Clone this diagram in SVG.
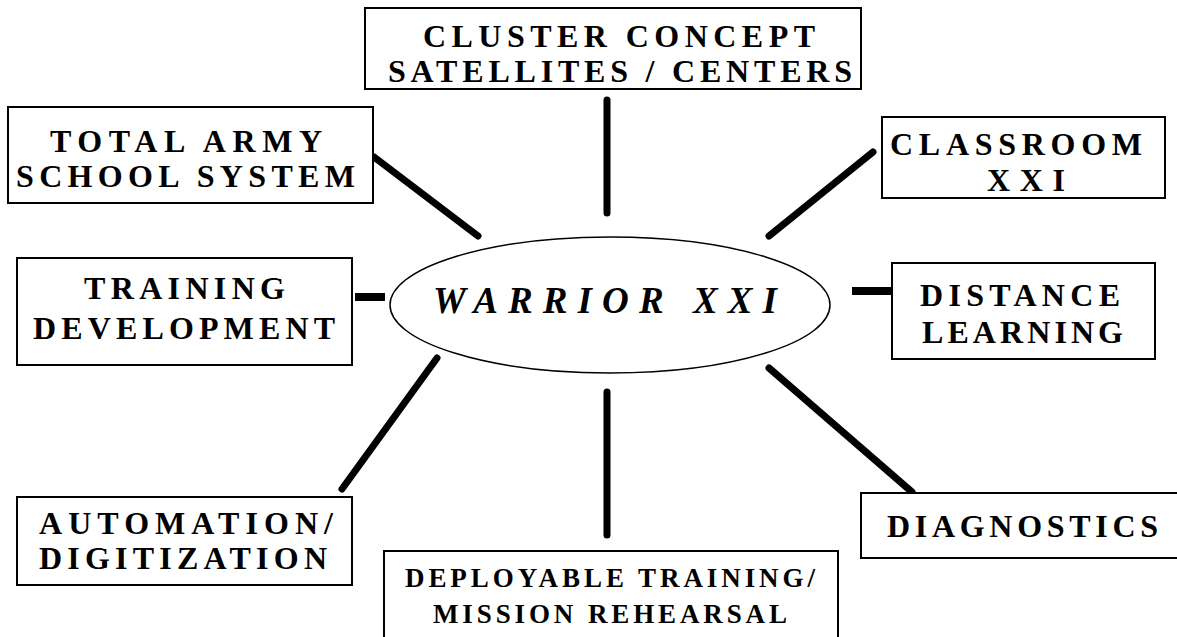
<svg xmlns="http://www.w3.org/2000/svg" width="1177" height="637" viewBox="0 0 1177 637">
<style>
.box{fill:#fff;stroke:#000;stroke-width:2}
.lbl{font-family:'Liberation Serif','DejaVu Serif',serif;font-weight:700;font-size:32px;fill:#000}
.sm{font-size:27px}
.conn{stroke:#000;stroke-width:7;stroke-linecap:round;fill:none}
.stub{stroke:#000;stroke-width:8;fill:none}
.hub{fill:#fff;stroke:#000;stroke-width:1.5}
.hubt{font-family:'Liberation Serif','DejaVu Serif',serif;font-weight:700;font-style:italic;font-size:37px;fill:#000}
</style>
<rect width="1177" height="637" fill="#fff"/>
<g id="connectors">
<line class="conn" x1="607" y1="100" x2="607" y2="213"/>
<line class="conn" x1="374" y1="157" x2="478" y2="236"/>
<line class="conn" x1="873" y1="152" x2="769" y2="236"/>
<line class="stub" x1="355" y1="297" x2="385" y2="297"/>
<line class="stub" x1="852" y1="291" x2="892" y2="291"/>
<line class="conn" x1="342" y1="489" x2="437" y2="358"/>
<line class="conn" x1="607" y1="392" x2="607" y2="535"/>
<line class="conn" x1="769" y1="368" x2="912" y2="492"/>
</g>
<g id="hub">
<ellipse class="hub" cx="610" cy="305" rx="220" ry="68"/>
<text class="hubt" x="433" y="313" textLength="344" lengthAdjust="spacing">WARRIOR XXI</text>
</g>
<g id="cluster">
<rect class="box" x="365" y="8" width="496" height="81"/>
<text class="lbl" x="423" y="47" textLength="392" lengthAdjust="spacing">CLUSTER CONCEPT</text>
<text class="lbl" x="388" y="82" textLength="464" lengthAdjust="spacing">SATELLITES / CENTERS</text>
</g>
<g id="total-army">
<rect class="box" x="8" y="107" width="365" height="96"/>
<text class="lbl" x="50" y="152" textLength="272" lengthAdjust="spacing">TOTAL ARMY</text>
<text class="lbl" x="16" y="187" textLength="339" lengthAdjust="spacing">SCHOOL SYSTEM</text>
</g>
<g id="classroom">
<rect class="box" x="882" y="117" width="283" height="81"/>
<text class="lbl" x="890" y="155" textLength="252" lengthAdjust="spacing">CLASSROOM</text>
<text class="lbl" x="987" y="191" textLength="78" lengthAdjust="spacing">XXI</text>
</g>
<g id="training-development">
<rect class="box" x="17" y="258" width="335" height="107"/>
<text class="lbl" x="84" y="299" textLength="201" lengthAdjust="spacing">TRAINING</text>
<text class="lbl" x="33" y="339" textLength="302" lengthAdjust="spacing">DEVELOPMENT</text>
</g>
<g id="distance-learning">
<rect class="box" x="892" y="263" width="263" height="96"/>
<text class="lbl" x="920" y="306" textLength="200" lengthAdjust="spacing">DISTANCE</text>
<text class="lbl" x="922" y="343" textLength="201" lengthAdjust="spacing">LEARNING</text>
</g>
<g id="automation">
<rect class="box" x="17" y="497" width="335" height="88"/>
<text class="lbl" x="39" y="534" textLength="294" lengthAdjust="spacing">AUTOMATION/</text>
<text class="lbl" x="39" y="569" textLength="288" lengthAdjust="spacing">DIGITIZATION</text>
</g>
<g id="deployable">
<rect class="box" x="384" y="551" width="454" height="100"/>
<text class="lbl sm" x="405" y="587" textLength="410" lengthAdjust="spacing">DEPLOYABLE TRAINING/</text>
<text class="lbl sm" x="433" y="623" textLength="354" lengthAdjust="spacing">MISSION REHEARSAL</text>
</g>
<g id="diagnostics">
<rect class="box" x="861" y="493" width="330" height="65"/>
<text class="lbl" x="887" y="537" textLength="271" lengthAdjust="spacing">DIAGNOSTICS</text>
</g>
</svg>
